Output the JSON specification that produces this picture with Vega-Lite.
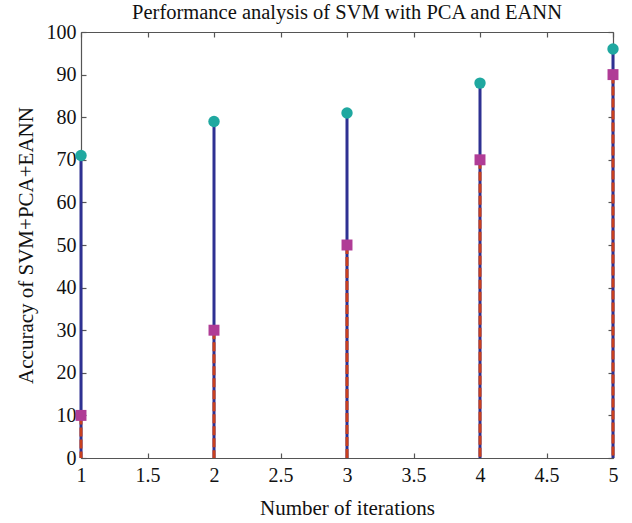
{
  "$schema": "https://vega.github.io/schema/vega-lite/v6.json",
  "autosize": "none",
  "width": 532,
  "height": 426,
  "padding": {"left": 81, "top": 32, "right": 19, "bottom": 65},
  "background": "white",
  "title": {"text": "Performance analysis of SVM with PCA and EANN", "font": "Liberation Serif", "fontSize": 20.5, "fontWeight": "normal", "color": "#111", "offset": -1},
  "config": {
    "view": {"stroke": null},
    "axis": {"labelFont": "Liberation Serif", "titleFont": "Liberation Serif", "labelFontSize": 20, "titleFontSize": 21, "titleFontWeight": "normal", "labelColor": "#111", "titleColor": "#111", "domainColor": "#555", "tickColor": "#555", "grid": false, "tickSize": -5, "domainWidth": 1.2, "tickWidth": 1.2}
  },
  "data": {"values": [
    {"iter": 1, "svm": 71, "ann": 10},
    {"iter": 2, "svm": 79, "ann": 30},
    {"iter": 3, "svm": 81, "ann": 50},
    {"iter": 4, "svm": 88, "ann": 70},
    {"iter": 5, "svm": 96, "ann": 90}
  ]},
  "resolve": {"axis": {"x": "independent", "y": "independent"}},
  "layer": [
    {
      "mark": {"type": "rule", "color": "#2E3192", "strokeWidth": 3},
      "encoding": {
        "x": {"field": "iter", "type": "quantitative", "scale": {"domain": [1, 5], "nice": false}, "axis": {"orient": "bottom", "values": [1, 1.5, 2, 2.5, 3, 3.5, 4, 4.5, 5], "title": "Number of iterations", "labelPadding": 12, "titlePadding": 12, "labelFlush": false, "labelExpr": "datum.value"}},
        "y": {"field": "svm", "type": "quantitative", "scale": {"domain": [0, 100], "nice": false}, "axis": {"orient": "left", "values": [0, 10, 20, 30, 40, 50, 60, 70, 80, 90, 100], "title": "Accuracy of SVM+PCA+EANN", "labelPadding": 10, "titlePadding": 10, "labelFlush": false}},
        "y2": {"datum": 0}
      }
    },
    {
      "mark": {"type": "rule", "color": "#C8401E", "strokeWidth": 3, "strokeDash": [9, 3]},
      "encoding": {
        "x": {"field": "iter", "type": "quantitative", "axis": {"orient": "top", "values": [1, 1.5, 2, 2.5, 3, 3.5, 4, 4.5, 5], "labels": false, "title": null}},
        "y": {"field": "ann", "type": "quantitative", "axis": {"orient": "right", "values": [0, 10, 20, 30, 40, 50, 60, 70, 80, 90, 100], "labels": false, "title": null}},
        "y2": {"datum": 0}
      }
    },
    {
      "mark": {"type": "point", "shape": "circle", "filled": true, "color": "#1FA8A0", "size": 130, "opacity": 1},
      "encoding": {
        "x": {"field": "iter", "type": "quantitative", "axis": null},
        "y": {"field": "svm", "type": "quantitative", "axis": null}
      }
    },
    {
      "mark": {"type": "point", "shape": "square", "filled": true, "color": "#B03C96", "size": 120, "opacity": 1},
      "encoding": {
        "x": {"field": "iter", "type": "quantitative", "axis": null},
        "y": {"field": "ann", "type": "quantitative", "axis": null}
      }
    }
  ]
}
